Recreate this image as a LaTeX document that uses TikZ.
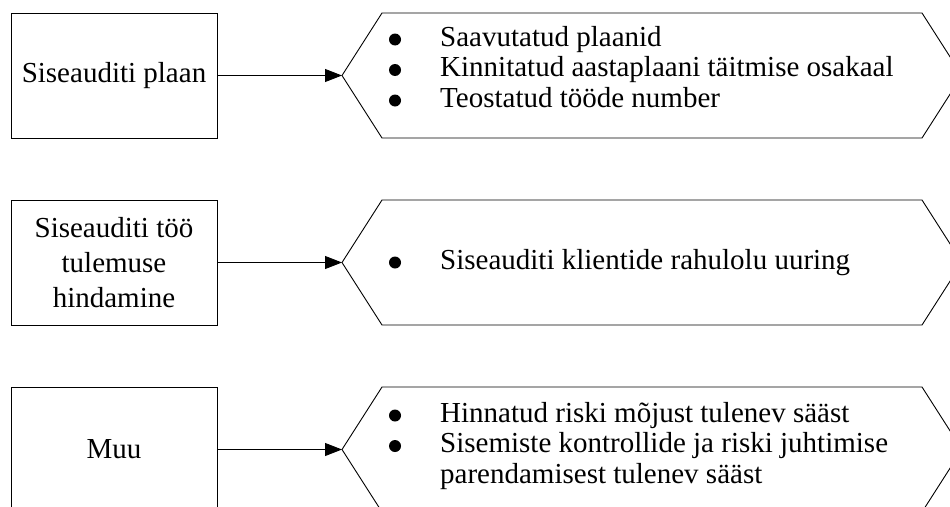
\documentclass[tikz,border=0pt]{standalone}
\usepackage{fontspec}
\setmainfont{Liberation Serif}
\usetikzlibrary{arrows.meta}

\tikzset{
  box/.style={draw, line width=0.9pt, minimum width=206pt, minimum height=125pt,
    inner sep=0pt, align=center, font=\fontsize{29}{35}\selectfont},
  list/.style={anchor=west, inner sep=0pt, align=left,
    font=\fontsize{29}{30.5}\selectfont},
  link/.style={line width=0.9pt, -{Triangle[length=17pt,width=13pt]}}
}

\begin{document}
\begin{tikzpicture}[x=1pt,y=-1pt]
  \clip (0,0) rectangle (950,506);
  \node[box] (b1) at (114,75.5)  {Siseauditi plaan};
  \node[box] (b2) at (114,262.5) {Siseauditi töö\\tulemuse\\hindamine};
  \node[box] (b3) at (114,449.5) {Muu};

  \coordinate (h1) at (342,75.5);
  \coordinate (h2) at (342,262.5);
  \coordinate (h3) at (342,449.5);

  % hexagons and arrows
  \foreach \n in {1,2,3} {
    \draw [line width=0.9pt] (h\n) -- ++(40,-62.5) -- ++(540,0) -- ++(40,62.5)
      -- ++(-40,62.5) -- ++(-540,0) -- cycle;
    \draw [link] (b\n) -- (h\n);
  }

  \node[list] (l1) at (440,67) {Saavutatud plaanid\\
    Kinnitatud aastaplaani täitmise osakaal\\
    Teostatud tööde number};
  \node[list] (l2) at (440,262.5) {Siseauditi klientide rahulolu uuring};
  \node[list] (l3) at (440,446) {Hinnatud riski mõjust tulenev sääst\\
    Sisemiste kontrollide ja riski juhtimise\\
    parendamisest tulenev sääst};

  % bullets
  \foreach \y in {39.5,70,100.5,262.5,415.5,446}
    \fill (395,\y) circle (6pt);
\end{tikzpicture}
\end{document}
